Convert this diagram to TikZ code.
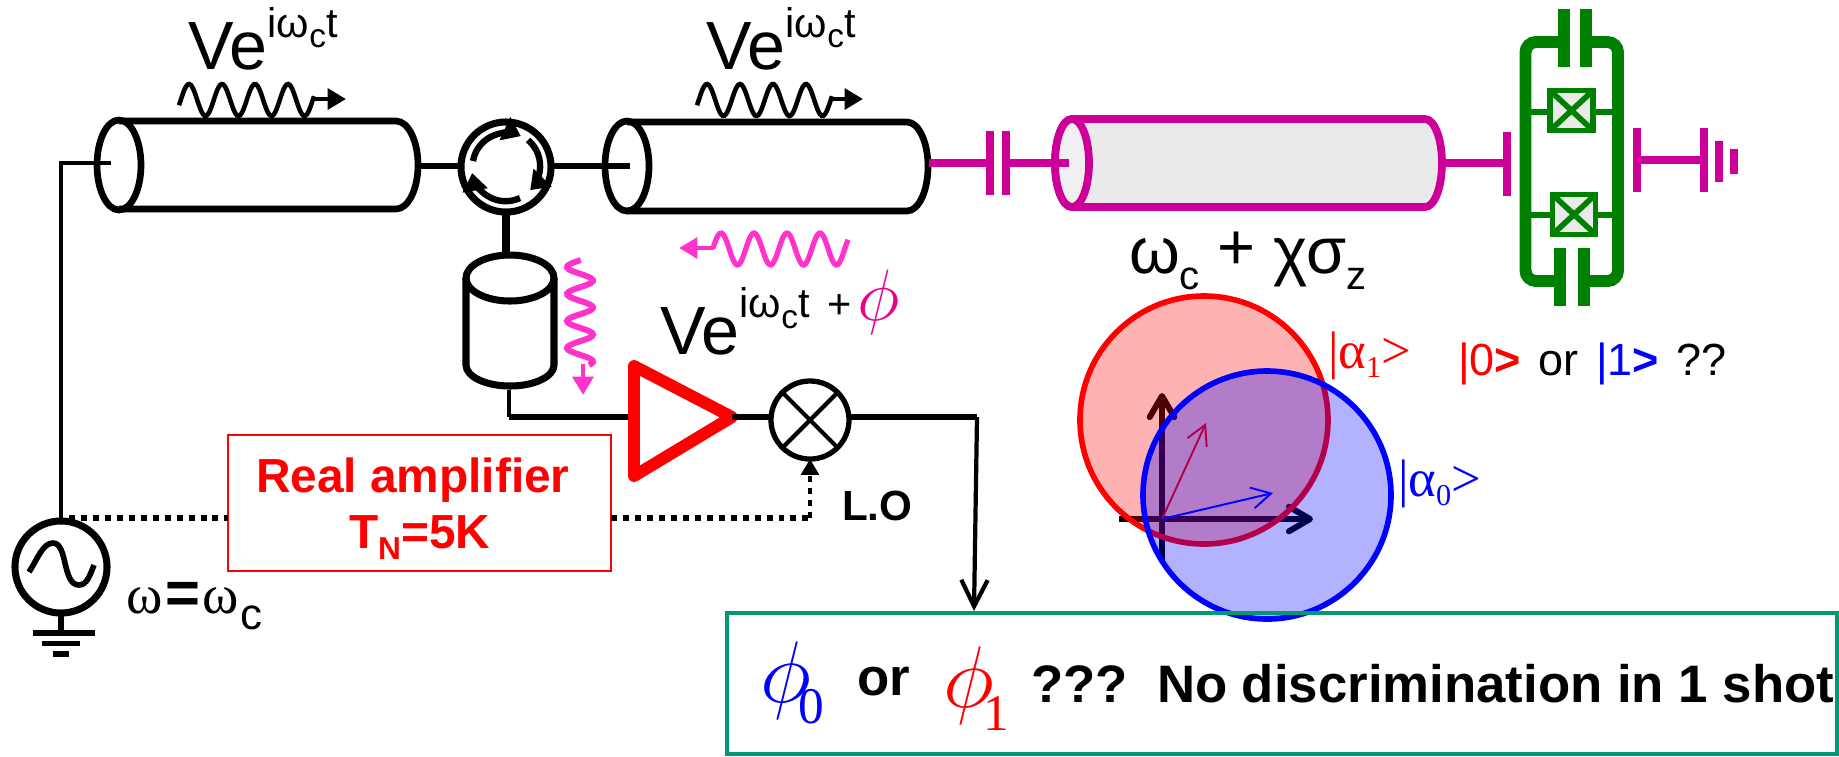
\documentclass[tikz,border=0pt]{standalone}
\usepackage{fontspec}
\setmainfont{Liberation Sans}
\newfontfamily\timesfam{Liberation Serif}
\usepackage{tikz}
\usetikzlibrary{arrows.meta}
\definecolor{resmag}{HTML}{CC0099}
\definecolor{wavepink}{HTML}{FF33CC}
\definecolor{qubgreen}{HTML}{008000}
\definecolor{boxteal}{HTML}{009973}
\definecolor{resgray}{HTML}{EAEAEA}
\newcommand{\carrier}[1][9.1pt]{\fontsize{19.4pt}{20pt}\selectfont Ve\raisebox{#1}{\fontsize{11.8pt}{12pt}\selectfont iω\raisebox{-3.1pt}{\fontsize{9.5pt}{10pt}\selectfont c}t}}
\newcommand{\szbig}{\fontsize{15pt}{16pt}\selectfont}
\newcommand{\szket}{\fontsize{12.8pt}{14pt}\selectfont}
\newcommand{\szsub}{\fontsize{11.4pt}{12pt}\selectfont}
\newcommand{\sznum}{\fontsize{8.6pt}{9pt}\selectfont}
\newcommand{\phisub}[3]{\fontsize{24.88pt}{26pt}\selectfont$\phi$\kern#1\raisebox{#2}{\fontsize{14.6pt}{15pt}\selectfont\timesfam #3}}
\tikzset{
	lab/.style={anchor=base west,inner sep=0pt,outer sep=0pt},
	tube/.style={line width=1.9pt,line join=round},
	wire/.style={line width=1.5pt},
	wave/.style={line width=1.3pt,smooth},
	wavetip/.style={line width=1.4pt,-{Triangle[length=5.2pt,width=5.8pt]}},
	res/.style={line width=2.2pt,draw=resmag},
	qub/.style={line width=3.4pt,draw=qubgreen},
	plate/.style={line width=2.1pt,draw=resmag},
	junction/.style={draw=qubgreen,line width=1.6pt,fill=resgray,inner sep=0pt,outer sep=0pt,minimum width=.43cm,minimum height=.4cm,shape=rectangle},
	ring/.style={draw,shape=circle,inner sep=0pt,outer sep=0pt},
	loopline/.style={line width=1.7pt,dash pattern=on 1.7pt off 1.7pt},
	axis/.style={line width=1.7pt,-{Straight Barb[round,length=6pt,width=7pt]}},
	vect/.style={line width=.55pt,-{Straight Barb[length=5.5pt,width=6pt]}},
}
\begin{document}
\begin{tikzpicture}[x=0.01cm,y=-0.01cm]
	\useasboundingbox (0,0) rectangle (1839,756);
	% transmission lines
	\draw[tube] (119,165) ellipse (22 and 45);
	\draw[tube] (119,121) -- (396,121) arc[start angle=-90,end angle=90,x radius=22,y radius=44] -- (119,209);
	\draw[tube] (627,166) ellipse (22 and 45);
	\draw[tube] (627,122) -- (907,122) arc[start angle=-90,end angle=90,x radius=21,y radius=44.5] -- (627,211);
	\draw[res,fill=resgray] (1072,119) -- (1425,119) arc[start angle=-90,end angle=90,x radius=17,y radius=44] -- (1072,207) arc[start angle=90,end angle=270,x radius=17,y radius=44];
	\draw[res,fill=resgray!70!white] (1072,163) ellipse (17 and 44);
	% circulator
	\node[ring,line width=2pt,minimum size=.9cm] (circ) at (506,167) {};
	\draw[line width=1.8pt,-{Triangle[length=5pt,width=7pt]}] (506,167) ++(-33,-6) arc[start angle=190,end angle=295,radius=34];
	\draw[line width=1.8pt,-{Triangle[length=5pt,width=7pt]}] (506,167) ++(22,-27) arc[start angle=-50,end angle=45,radius=34];
	\draw[line width=1.8pt,-{Triangle[length=5pt,width=7pt]}] (506,167) ++(14,31) arc[start angle=65,end angle=170,radius=34];
	\coordinate (tubeaout) at (420,166);
	\coordinate (tubebin) at (630,166);
	\coordinate (cyltop) at (506,253);
	\draw[wire] (tubeaout) -- (circ.west |- tubeaout);
	\draw[wire] (circ.east |- tubebin) -- (tubebin);
	\draw[line width=2.1pt] (circ.south) -- (cyltop);
	% vertical tube
	\draw[line width=2pt] (510,278) ellipse (44 and 23);
	\draw[line width=2pt] (466,278) -- (466,365) arc[start angle=180,end angle=0,x radius=44,y radius=21] -- (554,278);
	% source and ground
	\node[ring,line width=2pt,minimum width=.92cm] (src) at (61,567) {};
	\coordinate (tubeain) at (111,163);
	\coordinate (srcturn) at (61,163);
	\draw[wire,line width=1.3pt] (tubeain) -- (srcturn) -- (src.north);
	\draw[line width=1.6pt] (29,572) .. controls (38,558) and (43,543) .. (53,543) .. controls (68,543) and (62,585) .. (79,585) .. controls (87,585) and (90,575) .. (94,565);
	\coordinate (gnd) at (61,633);
	\draw[wire] (src.south) -- (gnd);
	\draw[line width=1.5pt] (33,633) -- (95,633);
	\draw[line width=1.5pt] (42,643.5) -- (80,643.5);
	\draw[line width=1.5pt] (53,654) -- (69,654);
	% amplifier and mixer
	\coordinate (ampa) at (634,366);
	\coordinate (ampb) at (634,476);
	\coordinate (amptip) at (732,417);
	\draw[draw=red,line width=3.4pt,line join=round] (ampa) -- (amptip) -- (ampb) -- cycle;
	\node[ring,line width=1.5pt,minimum size=.78cm] (mix) at (810,420) {};
	\draw[line width=1.2pt] (mix.45) -- (mix.225) (mix.135) -- (mix.315);
	\coordinate (cylout) at (509,390);
	\coordinate (cylturn) at (509,417);
	\coordinate (ampin) at (628,417);
	\coordinate (mixturn) at (977,417);
	\coordinate (readout) at (974,611);
	\draw[line width=1pt] (cylout) -- (cylturn);
	\draw[line width=1.9pt] (cylturn) -- (ampin);
	\draw[wire] (amptip) -- (mix.west |- amptip);
	\draw[line width=1.7pt] (mix.east |- mixturn) -- (mixturn);
	\draw[line width=1.2pt,-{Straight Barb[length=7.5pt,width=7.5pt]}] (mixturn) -- (readout);
	% red box
	\node[draw=red,line width=.45pt,minimum width=3.83cm,minimum height=1.36cm,inner sep=0pt,outer sep=0pt,fill=white] (realamp) at (419.5,503) {};
	\node[lab,text=red,font=\bfseries\fontsize{13.6pt}{14pt}\selectfont] (realtext) at (256,492) {Real amplifier};
	\node[lab,text=red,font=\bfseries\fontsize{13.6pt}{14pt}\selectfont] (tntext) at (349,548) {T\raisebox{-3.2pt}{\fontsize{9pt}{9pt}\selectfont N}=5K};
	\coordinate (srcloop) at (69,518);
	\coordinate (loturn) at (810,518);
	\draw[loopline] (srcloop) -- (realamp.west |- srcloop);
	\draw[loopline] (realamp.east |- loturn) -- (loturn);
	\draw[loopline,line width=1.3pt,-{Triangle[length=4.5pt,width=5pt]}] (loturn) -- (mix.south);
	\node[lab,font=\bfseries\fontsize{12pt}{12pt}\selectfont] (lotext) at (842,520) {L.O};
	\node[lab] (freq) at (126,613) {\fontsize{15.7pt}{16pt}\selectfont\timesfam ω\kern1pt{\rmfamily\bfseries\fontsize{17pt}{18pt}\selectfont=}\kern.5ptω\kern.5pt\raisebox{-4.6pt}{\fontsize{12.5pt}{13pt}\selectfont\rmfamily c}};
	% resonator and qubit
	\coordinate (tubebout) at (929,163);
	\coordinate (capin) at (990,163);
	\coordinate (capout) at (1006,163);
	\coordinate (resin) at (1069,163);
	\coordinate (resout) at (1442,163);
	\coordinate (qubin) at (1507,163);
	\draw[res] (tubebout) -- (capin);
	\draw[res] (capout) -- (resin);
	\draw[res] (resout) -- (qubin);
	\draw[plate] (990,131) -- (990,195);
	\draw[plate] (1006,131) -- (1006,195);
	\draw[plate] (1507,132) -- (1507,196);
	\coordinate (gndin) at (1637,160);
	\coordinate (gndout) at (1704,160);
	\draw[res] (gndin) -- (gndout);
	\draw[plate] (1637,128) -- (1637,192);
	\draw[plate] (1704,128) -- (1704,192);
	\draw[plate] (1719,141) -- (1719,182);
	\draw[plate] (1734,149) -- (1734,174);
	\draw[qub,rounded corners=3pt] (1564,42) -- (1525.5,42) -- (1525.5,281) -- (1560,281);
	\draw[qub,rounded corners=3pt] (1586,42) -- (1618,42) -- (1618,281) -- (1584,281);
	\draw[qub,line width=3.5pt] (1564,9) -- (1564,67);
	\draw[qub,line width=3.5pt] (1586,9) -- (1586,67);
	\draw[qub,line width=3.5pt] (1560,248) -- (1560,306);
	\draw[qub,line width=3.5pt] (1584,248) -- (1584,306);
	\node[junction] (jja) at (1571.5,110.5) {};
	\node[junction] (jjb) at (1574,214.5) {};
	\draw[qubgreen,line width=1.6pt] (jja.north west) -- (jja.south east) (jja.north east) -- (jja.south west);
	\draw[qubgreen,line width=1.6pt] (jjb.north west) -- (jjb.south east) (jjb.north east) -- (jjb.south west);
	\coordinate (leadal) at (1526,112);
	\coordinate (leadar) at (1618,112);
	\coordinate (leadbl) at (1526,215);
	\coordinate (leadbr) at (1618,215);
	\draw[qubgreen,line width=1.6pt] (leadal) -- (jja.west |- leadal) (jja.east |- leadar) -- (leadar);
	\draw[qubgreen,line width=1.6pt] (leadbl) -- (jjb.west |- leadbl) (jjb.east |- leadbr) -- (leadbr);
	% travelling waves
	\draw[wave] plot[domain=179:314,samples=80] (\x,{100-16*cos(10.91*(\x-189))});
	\coordinate (wavea) at (314,99);
	\coordinate (waveatip) at (346,99);
	\draw[wavetip] (wavea) -- (waveatip);
	\draw[wave] plot[domain=697:832,samples=80] (\x,{100-16*cos(10.91*(\x-707))});
	\coordinate (waveb) at (832,99);
	\coordinate (wavebtip) at (863,99);
	\draw[wavetip] (waveb) -- (wavebtip);
	\draw[wave,wavepink,line width=1.5pt] plot[domain=713:848,samples=80] (\x,{249-16*cos(10.91*(\x-721))});
	\coordinate (wavec) at (714,248);
	\coordinate (wavectip) at (679,248);
	\draw[wavetip,wavepink] (wavec) -- (wavectip);
	\draw[wave,wavepink,line width=1.7pt] plot[domain=260:365,samples=70] ({580-13*cos(13.33*(\x-267))},\x);
	\coordinate (waved) at (583,364);
	\coordinate (wavedtip) at (583,395);
	\draw[wavetip,wavepink] (waved) -- (wavedtip);
	% phase plane
	\coordinate (orig) at (1162,519);
	\coordinate (axl) at (1119,519);
	\coordinate (axr) at (1313,519);
	\coordinate (axb) at (1162,560);
	\coordinate (axt) at (1162,393);
	\draw[axis] (axl) -- (axr);
	\draw[axis] (axb) -- (axt);
	\coordinate (veca) at (1206,423);
	\draw[vect,red] (orig) -- (veca);
	\draw[draw=red,line width=1.6pt,fill=red,fill opacity=.3] (1204,420) circle (124);
	\node[draw=boxteal,line width=1.2pt,fill=white,minimum width=11.1cm,minimum height=1.41cm,inner sep=0pt,outer sep=0pt] (answer) at (1282,683.5) {};
	\draw[draw=blue,line width=1.6pt,fill=blue,fill opacity=.3] (1267,495) circle (124);
	\coordinate (vecb) at (1273,493);
	\draw[vect,blue] (orig) -- (vecb);
	\draw[draw=boxteal,line width=1.2pt] (answer.north west) -- (answer.north east);
	% labels
	\node[lab] (carra) at (188,69) {\carrier};
	\node[lab] (carrb) at (706,69) {\carrier};
	\node[lab] (carrc) at (660,354) {\carrier[10.4pt]};
	\node[lab,font=\fontsize{11.8pt}{12pt}\selectfont] (carrplus) at (827,318) {+};
	\node[lab,text=magenta] (carrphi) at (857,320) {\fontsize{20.74pt}{21pt}\selectfont$\phi$};
	\node[lab] (shift) at (1129,273) {\fontsize{18.5pt}{19pt}\selectfont ω\raisebox{-4.8pt}{\szsub c} \raisebox{1pt}{+} χσ\raisebox{-4.8pt}{\szsub z}};
	\node[lab,text=red] (kettwo) at (1328,368) {\szbig\timesfam|α\raisebox{-2.8pt}{\sznum 1}>};
	\node[lab,text=blue] (ketone) at (1398,496) {\szbig\timesfam|α\raisebox{-2.8pt}{\sznum 0}>};
	\node[lab,text=red] (zero) at (1458,375) {\szket|0\textbf{>}};
	\node[lab] (ortext) at (1538,375) {\szket or};
	\node[lab,text=blue] (one) at (1596,375) {\szket|1\textbf{>}};
	\node[lab] (qmarks) at (1676,375) {\szket ??};
	\node[lab,text=blue] (phizero) at (760,702) {\phisub{-3.4pt}{-6pt}{0}};
	\node[lab,font=\bfseries\szbig] (ortwo) at (857,695) {or};
	\node[lab,text=red] (phione) at (943,707) {\phisub{-2.9pt}{-6.8pt}{1}};
	\node[lab,font=\bfseries\szbig] (verdict) at (1031,702) {???};
	\node[lab,font=\bfseries\szbig] (verdicttwo) at (1157,702) {No discrimination in 1 shot};
\end{tikzpicture}
\end{document}
